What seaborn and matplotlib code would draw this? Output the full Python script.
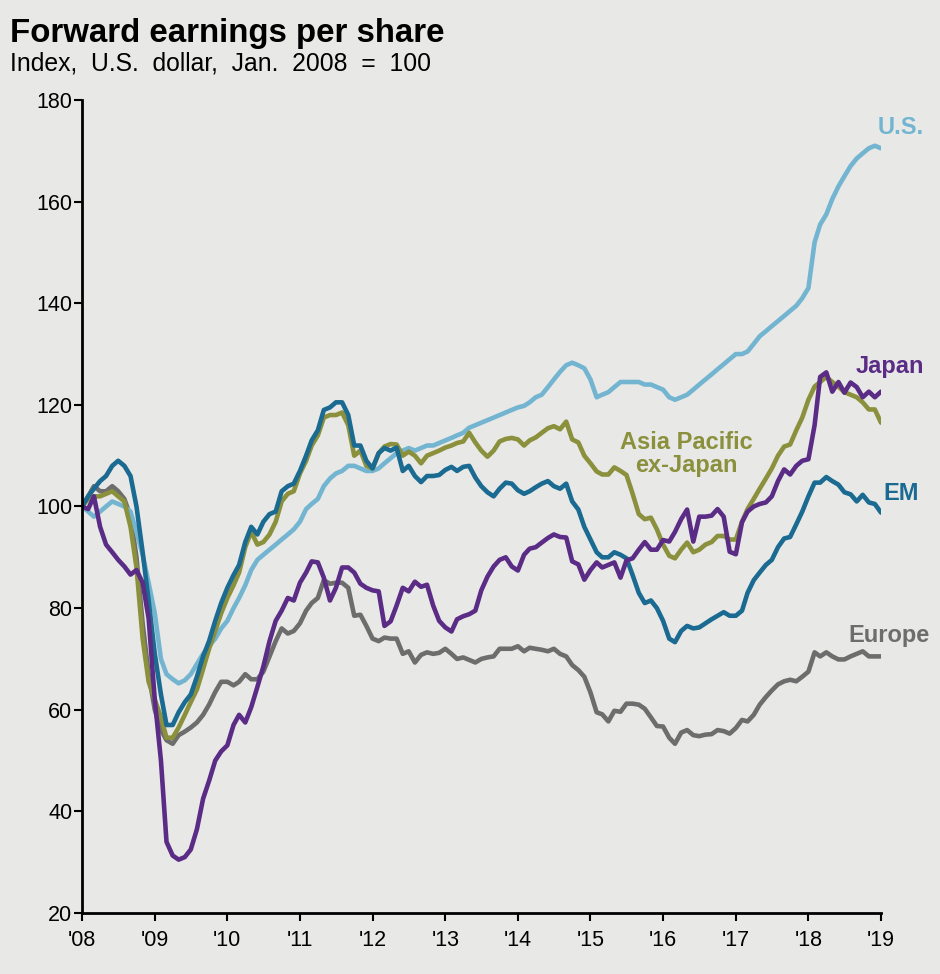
import numpy as np
import pandas as pd
import matplotlib
matplotlib.use("Agg")
import matplotlib.pyplot as plt
import seaborn as sns

# Monthly index levels, Jan 2008 .. Jan 2019 (one row per year)
us = [100, 99, 98, 99, 100, 101, 100.5, 100, 99, 95, 90.5, 85,
      79, 70, 67, 66, 65.2, 65.8, 67, 69, 71, 72.5, 74, 76,
      77.5, 80, 82, 84.5, 87.5, 89.5, 90.5, 91.5, 92.5, 93.5, 94.5, 95.5,
      97, 99.5, 100.5, 101.5, 104, 105.5, 106.5, 107, 108, 108, 107.5, 107,
      107, 107.5, 108.5, 109.5, 110.5, 111, 111.5, 111, 111.5, 112, 112, 112.5,
      113, 113.5, 114, 114.5, 115.5, 116, 116.5, 117, 117.5, 118, 118.5, 119,
      119.5, 119.8, 120.5, 121.5, 122, 123.5, 125, 126.5, 127.8, 128.3, 127.8, 127.2,
      125, 121.5, 122, 122.5, 123.5, 124.5, 124.5, 124.5, 124.5, 124, 124, 123.5,
      123, 121.5, 121, 121.5, 122, 123, 124, 125, 126, 127, 128, 129,
      130, 130, 130.5, 132, 133.5, 134.5, 135.5, 136.5, 137.5, 138.5, 139.5, 141,
      143, 152, 155.5, 157.5, 160.5, 163, 165, 167, 168.5, 169.5, 170.5, 171,
      170.5]

em = [100, 102, 103.5, 105, 106, 108, 109, 108, 106, 100, 91, 81.5,
      71, 63, 57, 57, 59.5, 61.5, 63, 66.5, 70.5, 73.5, 77.5, 81,
      84, 86.5, 88.5, 93, 96, 94.5, 97, 98.5, 99, 103, 104, 104.5,
      107, 110, 113, 115, 119, 119.5, 120.5, 120.5, 118, 112, 112, 109,
      107.5, 110.5, 111.5, 111, 111.6, 107, 108, 106, 104.8, 106, 106, 106.2,
      107.2, 107.8, 107, 107.8, 108, 105.7, 104, 102.8, 102, 103.5, 104.7, 104.5,
      103.2, 102.5, 103, 103.8, 104.5, 105, 104, 103.5, 104.5, 101, 99.4, 96,
      93.5, 91, 90, 90, 91, 90.5, 89.8, 86.5, 83, 81, 81.5, 80,
      77.5, 74, 73.3, 75.5, 76.5, 76, 76.2, 77, 77.8, 78.5, 79.2, 78.5,
      78.5, 79.5, 83, 85.5, 87, 88.5, 89.5, 92, 93.7, 94, 96.5, 99,
      102, 104.7, 104.7, 105.8, 105, 104.3, 102.8, 102.4, 101, 102.3, 100.8, 100.5,
      98.8]

apxj = [100, 101.5, 102, 102, 102.5, 103, 102, 101, 96, 88, 74, 65.5,
        62, 58.5, 54.5, 54.5, 56.5, 59, 61.5, 64, 68, 72, 75.5, 79,
        82, 84.5, 87, 92, 95, 92.5, 93, 94.5, 97, 101, 102.5, 103,
        106.5, 109, 112, 114, 117.5, 118, 118, 118.5, 116, 110, 111, 108,
        107.5, 110.5, 111.8, 112.3, 112.2, 110, 110.8, 110, 108.5, 110, 110.5, 111,
        111.6, 112, 112.5, 112.8, 114.5, 112.6, 111, 109.8, 111, 112.8, 113.3, 113.5,
        113.2, 112, 113, 113.6, 114.5, 115.4, 115.8, 115.2, 116.7, 113.2, 112.6, 110,
        108.5, 106.9, 106.3, 106.3, 107.7, 107, 106.2, 102.5, 98.5, 97.5, 97.8, 95.5,
        92.5, 90.3, 89.8, 91.5, 92.9, 91, 91.5, 92.5, 93, 94.2, 94.2, 93.5,
        93.5, 97, 99.5, 101.5, 103.5, 105.5, 107.5, 110, 111.8, 112.2, 115, 117.5,
        121, 123.6, 124.5, 125.5, 124.5, 123.6, 122.5, 122, 121.5, 120.5, 119.1, 119.1,
        116.5]

japan = [100, 99.5, 102, 96, 92.5, 91, 89.5, 88.2, 86.6, 87.5, 85, 78,
         62, 50, 34, 31.3, 30.5, 31, 32.5, 36.5, 42.5, 46, 50, 51.8,
         53, 57, 59, 57.5, 60.5, 64.5, 68.5, 73.5, 77.5, 79.5, 82, 81.5,
         85, 87, 89.2, 89, 86, 81.5, 84, 88, 88, 87, 84.8, 84,
         83.5, 83.3, 76.5, 77.4, 80.5, 84, 83.3, 85.2, 84.2, 84.6, 80.5, 77.5,
         76.2, 75.4, 77.8, 78.4, 78.8, 79.5, 83.5, 86.2, 88.2, 89.5, 90, 88.2,
         87.4, 90.5, 91.7, 92, 92.9, 93.8, 94.5, 94, 93.9, 89.2, 88.6, 85.6,
         87.5, 89, 88, 88.5, 89, 86, 89.4, 89.8, 91.5, 93, 91.5, 91.5,
         93.4, 93.1, 95, 97.5, 99.4, 93.1, 98, 98, 98.2, 99.5, 98, 91.1,
         90.6, 96.9, 99, 100, 100.5, 100.8, 102, 105, 107.3, 106.3, 108, 109,
         109.3, 116, 125.5, 126.4, 122.6, 124.5, 122.4, 124.4, 123.5, 121.5, 122.6, 121.5,
         122.6]

europe = [100, 102, 104, 103, 103, 104, 103, 101.5, 98, 90, 77, 67,
          60, 56, 54, 53.3, 55, 55.7, 56.5, 57.5, 59, 61, 63.5, 65.5,
          65.5, 64.8, 65.5, 67, 66, 66, 67.5, 70.5, 73.5, 76, 75, 75.5,
          77, 79.5, 81, 82, 85.5, 84.8, 85, 85, 84, 78.5, 78.7, 76.5,
          74, 73.5, 74.2, 74, 74, 71, 71.5, 69.3, 70.8, 71.3, 71, 71.2,
          72, 71, 70, 70.3, 69.8, 69.3, 70, 70.3, 70.5, 72, 72, 72,
          72.5, 71.5, 72.2, 72, 71.8, 71.5, 72, 71, 70.5, 68.8, 67.8, 66.5,
          63.4, 59.5, 59.1, 57.7, 59.8, 59.6, 61.2, 61.2, 61, 60.2, 58.5, 56.8,
          56.7, 54.5, 53.3, 55.5, 56, 55, 54.8, 55.1, 55.2, 56, 55.8, 55.3,
          56.4, 58, 57.7, 59, 61, 62.5, 63.8, 65, 65.6, 65.9, 65.6, 66.5,
          67.5, 71.3, 70.5, 71.3, 70.5, 69.9, 69.9, 70.5, 71, 71.5, 70.5, 70.5,
          70.5]

series_names = ["Europe", "U.S.", "Asia Pacific ex-Japan", "EM", "Japan"]
colors = {"U.S.": "#73b5d1", "Japan": "#5b2c86", "Asia Pacific ex-Japan": "#8a903c",
          "EM": "#1a6a91", "Europe": "#6d6d6d"}
year_labels = ["'08", "'09", "'10", "'11", "'12", "'13", "'14", "'15", "'16", "'17", "'18", "'19"]
y_ticks = [20, 40, 60, 80, 100, 120, 140, 160, 180]

dates = pd.date_range("2008-01-01", periods=len(us), freq="MS")
df = pd.DataFrame({"date": dates, "U.S.": us, "EM": em, "Asia Pacific ex-Japan": apxj,
                   "Japan": japan, "Europe": europe})
long_df = df.melt(id_vars="date", var_name="series", value_name="value")

BG = "#e8e8e6"
sns.set_style("ticks")
plt.rcParams["font.family"] = ["Liberation Sans", "DejaVu Sans"]
plt.rcParams["text.color"] = "black"

fig = plt.figure(figsize=(9.4, 9.74), dpi=100, facecolor=BG)
ax = fig.add_axes([82 / 940, 1 - 913 / 974, 799 / 940, 813 / 974])
ax.set_facecolor(BG)

sns.lineplot(data=long_df, x="date", y="value", hue="series", hue_order=series_names,
             palette=colors, linewidth=3.3, legend=False, ax=ax)

year_ticks = pd.date_range("2008-01-01", periods=len(year_labels), freq="YS")
ax.set_xlim(year_ticks[0], year_ticks[-1])
ax.set_xticks(year_ticks)
ax.set_xticklabels(year_labels)
ax.set_ylim(20, 180)
ax.set_yticks(y_ticks)
ax.set_xlabel("")
ax.set_ylabel("")

for side in ["top", "right"]:
    ax.spines[side].set_visible(False)
for side in ["left", "bottom"]:
    ax.spines[side].set_linewidth(2)
    ax.spines[side].set_color("black")
ax.tick_params(axis="both", direction="out", length=6, width=1.5, labelsize=15.5, colors="black")
ax.tick_params(axis="x", pad=6)
ax.tick_params(axis="y", pad=1)

# Series labels
lab = dict(fontsize=17, fontweight="bold", ha="center", va="center", transform=ax.transAxes)
ax.text(1.025, 0.9656, "U.S.", color=colors["U.S."], **lab)
ax.text(1.011, 0.6716, "Japan", color=colors["Japan"], **lab)
ax.text(0.756, 0.5646, "Asia Pacific\nex-Japan", color=colors["Asia Pacific ex-Japan"],
        linespacing=1.05, **lab)
ax.text(1.025, 0.5166, "EM", color=colors["EM"], **lab)
ax.text(1.010, 0.3419, "Europe", color=colors["Europe"], **lab)

fig.text(10 / 940, 1 - 42 / 974, "Forward earnings per share", fontsize=23.8,
         fontweight="bold", va="baseline", ha="left", color="black")
fig.text(10 / 940, 1 - 71 / 974, "Index,  U.S.  dollar,  Jan.  2008  =  100", fontsize=17.8,
         va="baseline", ha="left", color="black")

fig.savefig("out.png", dpi=100, facecolor=BG)
